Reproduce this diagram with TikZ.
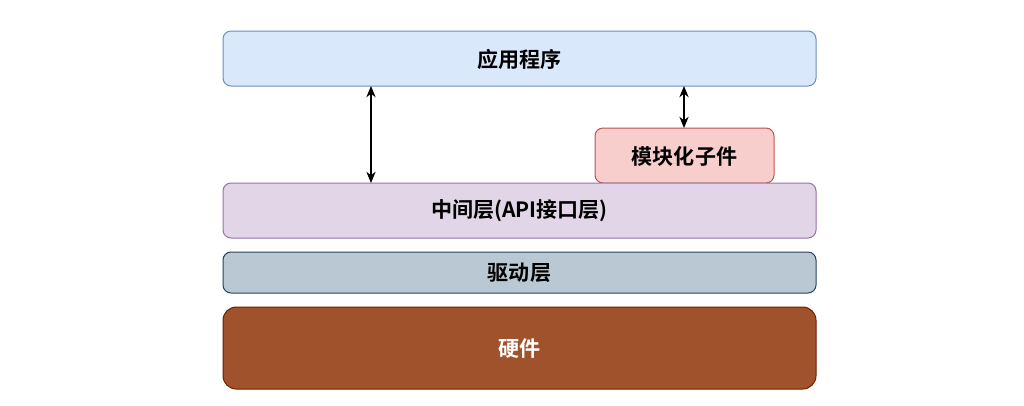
\documentclass[tikz,border=0pt]{standalone}
\usepackage{fontspec}
\setmainfont{Noto Sans CJK SC}[BoldFont={Noto Sans CJK SC Bold}]
\usetikzlibrary{arrows.meta}
\definecolor{appfill}{HTML}{DAE8FC}\definecolor{appdraw}{HTML}{6C8EBF}
\definecolor{modfill}{HTML}{F8CECC}\definecolor{moddraw}{HTML}{B85450}
\definecolor{midfill}{HTML}{E1D5E7}\definecolor{middraw}{HTML}{9673A6}
\definecolor{drvfill}{HTML}{BAC8D3}\definecolor{drvdraw}{HTML}{23445D}
\definecolor{hwfill}{HTML}{A0522D}\definecolor{hwdraw}{HTML}{6D1F00}
\tikzset{
  layer/.style={rounded corners=6pt, line width=0.75pt, font=\bfseries\fontsize{15.8pt}{18pt}\selectfont, inner sep=0pt},
  link/.style={line width=0.9pt, {Stealth[length=8.5pt,width=7pt]}-{Stealth[length=8.5pt,width=7pt]}}
}
\begin{document}
\begin{tikzpicture}[x=0.75pt,y=-0.75pt]
\useasboundingbox (0,0) rectangle (1024,405);
\fill[white] (0,0) rectangle (1024,405);
\draw[layer, fill=appfill, draw=appdraw] (223,31) rectangle (816,86);
\node[layer] (app) at (519.5,59) {应用程序};
\coordinate (appb1) at (371,86);
\coordinate (appb2) at (684,86);
\draw[layer, fill=modfill, draw=moddraw] (595,128) rectangle (774,183);
\node[layer] (mod) at (684.5,156) {模块化子件};
\coordinate (modt) at (684,128);
\draw[layer, fill=midfill, draw=middraw] (223,183) rectangle (816,238);
\node[layer] (mid) at (519.5,211) {中间层(API接口层)};
\coordinate (midt) at (371,183);
\draw[layer, fill=drvfill, draw=drvdraw] (223,252) rectangle (816,293);
\node[layer] (drv) at (519.5,273) {驱动层};
\draw[layer, fill=hwfill, draw=hwdraw, rounded corners=10pt] (223,307) rectangle (816,389);
\node[layer, text=white] (hw) at (519.5,348.5) {硬件};
\draw[link] (appb1) -- (midt);
\draw[link] (appb2) -- (modt);
\end{tikzpicture}
\end{document}
